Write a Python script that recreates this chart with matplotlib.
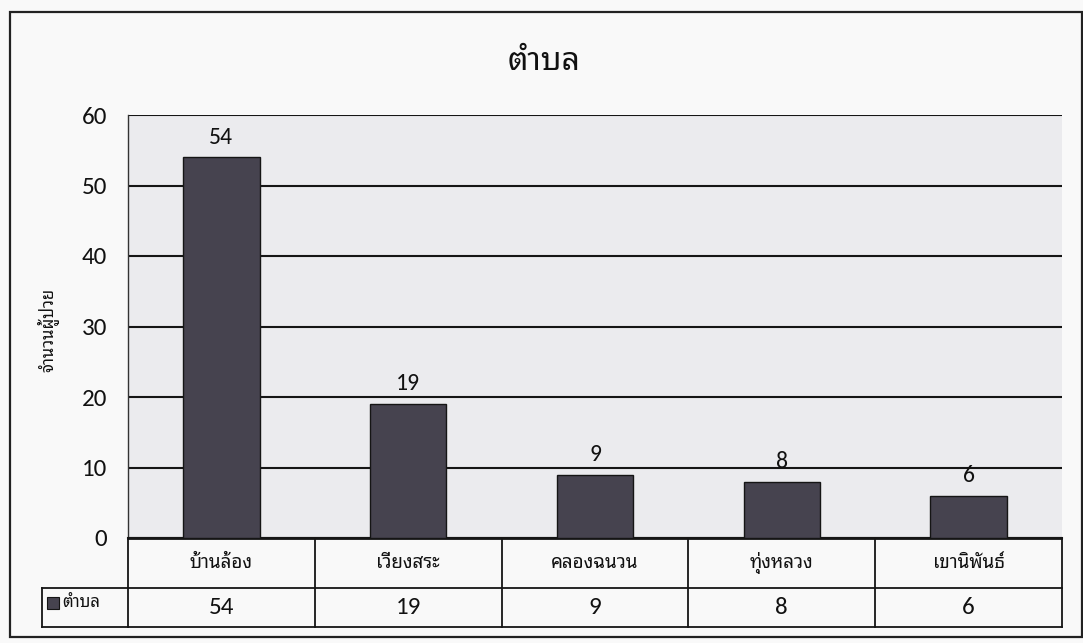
import matplotlib
matplotlib.use("Agg")
import matplotlib.pyplot as plt
from matplotlib.transforms import blended_transform_factory
from matplotlib.patches import Rectangle
from matplotlib.lines import Line2D
import logging

# ---- data ----
categories = ["บ้านล้อง", "เวียงสระ", "คลองฉนวน", "ทุ่งหลวง", "เขานิพันธ์"]
values = [54, 19, 9, 8, 6]
series_name = "ตำบล"
title = "ตำบล"
ylabel = "จำนวนผู้ป่วย"
yticks = [0, 10, 20, 30, 40, 50, 60]

THAI = ['Noto Sans Thai Looped', 'Noto Sans Thai', 'Sarabun', 'Tahoma', 'DejaVu Sans']
NUM = ['Carlito', 'Lato', 'DejaVu Sans']
logging.getLogger('matplotlib.font_manager').setLevel(logging.ERROR)

W, H = 1083, 643
fig = plt.figure(figsize=(W / 100, H / 100), dpi=100)
fig.patch.set_facecolor('#f9f9f9')

def fx(px):
    return px / W

def fy(py):
    return 1 - py / H

# outer border
fig.add_artist(Rectangle((fx(10), fy(637)), fx(1082) - fx(10), fy(12) - fy(637),
                         transform=fig.transFigure, fill=False, edgecolor='#222222', lw=1.6))

left, right, top, bottom = 128, 1062, 115, 538
ax = fig.add_axes([fx(left), fy(bottom), fx(right) - fx(left), fy(top) - fy(bottom)])
ax.set_facecolor('#ebebee')
bar_color = '#46434f'
x = list(range(len(categories)))
ax.bar(x, values, width=0.41, color=bar_color, edgecolor='#151515', lw=1.0, zorder=3)
ax.set_xlim(-0.5, len(categories) - 0.5)
ax.set_ylim(0, 60)
ax.set_yticks(yticks)
ax.set_yticklabels([str(t) for t in yticks], family=NUM, fontsize=18, color='#111111')
ax.tick_params(axis='y', length=0, pad=15)
ax.set_xticks([])
ax.yaxis.grid(True, color='#151515', lw=1.5, zorder=1)
ax.set_axisbelow(True)
ax.spines['right'].set_visible(False)
ax.spines['top'].set_visible(False)
ax.spines['left'].set_color('#333333')
ax.spines['left'].set_linewidth(1.0)
ax.spines['bottom'].set_color('#151515')
ax.spines['bottom'].set_linewidth(1.5)

for xi, v in zip(x, values):
    ax.annotate(str(v), (xi, v), xytext=(0, 7), textcoords='offset points',
                ha='center', va='bottom', family=NUM, fontsize=17, color='#111111')

fig.text(fx(544), fy(62), title, ha='center', va='center', family=THAI, fontsize=23, color='#111111')
fig.text(fx(47), fy(330), ylabel, ha='center', va='center', rotation=90, family=THAI,
         fontsize=12, fontweight='bold', color='#111111')

# ---- data table ----
tr = blended_transform_factory(ax.transData, fig.transFigure)
r0, r1, r2 = 539, 588, 627
lc = '#151515'
n = len(categories)
for yy in (r0, r1, r2):
    fig.add_artist(Line2D((-0.5, n - 0.5), (fy(yy), fy(yy)), transform=tr, color=lc, lw=1.3))
for b in range(n + 1):
    fig.add_artist(Line2D((b - 0.5, b - 0.5), (fy(r0), fy(r2)), transform=tr, color=lc, lw=1.3))
# legend cell
fig.add_artist(Line2D((fx(42), fx(left)), (fy(r1), fy(r1)), transform=fig.transFigure, color=lc, lw=1.3))
fig.add_artist(Line2D((fx(42), fx(left)), (fy(r2), fy(r2)), transform=fig.transFigure, color=lc, lw=1.3))
fig.add_artist(Line2D((fx(42), fx(42)), (fy(r1), fy(r2)), transform=fig.transFigure, color=lc, lw=1.3))
fig.add_artist(Rectangle((fx(47), fy(609)), fx(59) - fx(47), fy(597) - fy(609),
                         transform=fig.transFigure, facecolor=bar_color, edgecolor='#151515', lw=0.8))
fig.text(fx(62), fy(603), series_name, ha='left', va='center', family=THAI, fontsize=12, color='#111111')

for xi, c, v in zip(x, categories, values):
    fig.text(xi, fy((r0 + r1) / 2), c, transform=tr, ha='center', va='center',
             family=THAI, fontsize=13.5, color='#111111')
    fig.text(xi, fy((r1 + r2) / 2), str(v), transform=tr, ha='center', va='center',
             family=NUM, fontsize=18, color='#111111')

fig.savefig("out.png", dpi=100, facecolor=fig.get_facecolor())
